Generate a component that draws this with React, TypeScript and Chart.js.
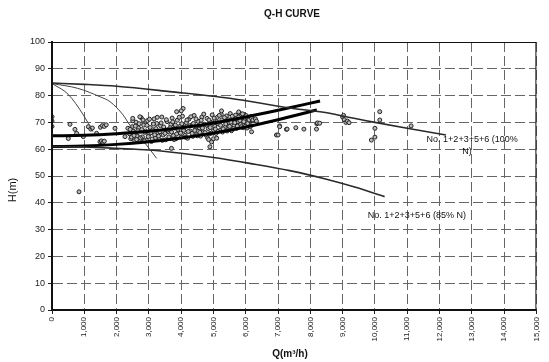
import React, { useEffect, useRef } from 'react';
import { Chart, registerables } from 'chart.js';

Chart.register(...registerables);

const chartTitle = 'Q-H CURVE';
const xTitle = 'Q(m³/h)';
const yTitle = 'H(m)';
const label100 = ['No. 1+2+3+5+6 (100%', 'N)'];
const label85 = 'No. 1+2+3+5+6 (85% N)';

const xMin = 0, xMax = 15000, xStep = 1000;
const yMin = 0, yMax = 100, yStep = 10;

// pump curve, 100% speed
const curve100Q = [0, 1000, 2000, 3650, 5500, 7360, 8600, 9220, 10000, 11000, 12200];
const curve100H = [84.7, 84.2, 83.5, 81.5, 79.0, 75.4, 73.4, 71.8, 70.0, 67.8, 65.3];
// pump curve, 85% speed
const curve85Q = [0, 1000, 2000, 3000, 4000, 5000, 6120, 7360, 8500, 9400, 10300];
const curve85H = [61.0, 60.8, 60.3, 59.7, 58.5, 56.9, 54.7, 52.0, 48.8, 45.8, 42.3];
// system curve A
const sysAQ = [0, 1000, 2000, 3000, 4000, 5000, 6000, 7000, 8300];
const sysAH = [65.0, 65.2, 65.8, 66.7, 68.0, 69.8, 72.0, 74.5, 78.0];
// system curve B
const sysBQ = [0, 1000, 2000, 3000, 4000, 5000, 6000, 7000, 8200];
const sysBH = [61.0, 61.2, 61.8, 62.8, 64.2, 66.0, 68.3, 71.0, 74.6];
// thin single-pump curves
const thin1Q = [0, 500, 970, 1270];
const thin1H = [84.5, 80.5, 72.8, 66.5];
const thin2Q = [0, 800, 1500, 1800, 2200, 2410, 2800, 3240];
const thin2H = [84.5, 82.7, 79.5, 77.7, 72.8, 69.0, 63.5, 56.6];

// measured operating points [Q, H]
const measured: [number, number][] = [
  [0, 72.1], [0, 70.5], [0, 68.5], [557, 69.3], [505, 64.0], [710, 67.4], [763, 65.9], [970, 64.7],
  [1125, 68.4], [1200, 67.5], [1250, 67.9], [1380, 65.9], [1500, 68.2], [1560, 68.8], [1620, 68.5],
  [1680, 69.1], [1485, 62.8], [1530, 63.1], [1580, 62.6], [1620, 63.0], [1950, 67.8], [2260, 64.7],
  [2350, 67.8], [836, 44.1],
  [2400, 65.8], [2440, 63.9], [2480, 68.4], [2520, 66.7], [2560, 63.2], [2600, 70.1], [2640, 65.0],
  [2680, 67.9], [2720, 62.8], [2760, 71.8], [2800, 64.6], [2840, 69.0], [2880, 66.3], [2920, 63.4],
  [2960, 70.7], [3000, 65.6], [3040, 68.1], [3080, 62.9], [3120, 67.2], [3160, 71.3], [3200, 64.2],
  [3240, 69.6], [3280, 66.0], [3320, 63.7], [3360, 68.8], [3400, 72.0], [3440, 65.3], [3480, 67.5],
  [3520, 63.5], [3560, 70.3], [3600, 66.6], [3640, 64.0], [3680, 69.2], [3720, 71.6], [3760, 65.1],
  [3800, 67.9], [3840, 63.9], [3880, 70.8], [3920, 66.2], [3960, 68.5], [4000, 64.5], [4040, 72.3],
  [4080, 67.0], [4120, 65.2], [4160, 69.9], [4200, 64.1], [4240, 71.2], [4280, 66.8], [4320, 68.9],
  [4360, 64.8], [4400, 72.6], [4440, 67.4], [4480, 65.6], [4520, 70.4], [4560, 68.0], [4600, 64.9],
  [4640, 72.0], [4680, 66.5], [4720, 69.3], [4760, 65.3], [4800, 71.5], [4840, 67.7], [4880, 65.8],
  [4920, 70.0], [4960, 72.8], [5000, 66.9], [5040, 68.6], [5080, 65.9], [5120, 71.9], [5160, 69.4],
  [5200, 67.0], [5240, 73.0], [5280, 66.4], [5320, 70.6], [5360, 68.2], [5400, 72.4], [5440, 67.3],
  [5480, 69.8], [5520, 73.3], [5560, 66.9], [5600, 71.1], [5640, 68.8], [5680, 72.7], [5720, 67.8],
  [5760, 70.3], [5800, 73.6], [5840, 69.2], [5880, 71.7], [5920, 68.0], [5960, 72.9], [6000, 70.0],
  [6040, 67.9], [6080, 71.4], [6120, 69.1], [6160, 72.2], [6200, 70.6],
  [2420, 67.4], [2460, 64.5], [2500, 70.6], [2540, 65.1], [2580, 68.6], [2620, 63.6], [2660, 66.9],
  [2700, 69.5], [2740, 64.2], [2780, 67.3], [2820, 70.9], [2860, 63.1], [2900, 66.8], [2940, 68.9],
  [2980, 64.7], [3020, 71.2], [3060, 66.1], [3100, 63.8], [3140, 69.4], [3180, 65.4], [3220, 67.7],
  [3260, 71.9], [3300, 64.9], [3340, 66.5], [3380, 69.8], [3420, 63.3], [3460, 68.3], [3500, 65.9],
  [3540, 71.0], [3580, 67.2], [3620, 64.6], [3660, 68.0], [3700, 66.4], [3740, 70.2], [3780, 63.6],
  [3820, 69.0], [3860, 65.7], [3900, 67.4], [3940, 71.9], [3980, 66.0], [4020, 69.5], [4060, 75.2],
  [4100, 68.2], [4140, 64.4], [4180, 70.9], [4220, 66.6], [4260, 68.7], [4300, 72.1], [4340, 65.9],
  [4380, 69.6], [4420, 67.0], [4460, 71.3], [4500, 65.0], [4540, 68.8], [4580, 66.3], [4620, 70.8],
  [4660, 67.9], [4700, 73.1], [4740, 66.2], [4780, 69.0], [4820, 64.2], [4860, 70.9], [4900, 68.1],
  [4940, 66.0], [4980, 69.7], [5020, 71.6], [5060, 67.5], [5100, 70.2], [5140, 66.6], [5180, 72.6],
  [5220, 68.9], [5260, 70.9], [5300, 67.6], [5340, 71.8], [5380, 69.4], [5420, 66.8], [5460, 71.0],
  [5500, 68.5], [5540, 70.1], [5580, 72.3], [5620, 67.7], [5660, 69.9], [5700, 71.4], [5740, 68.6],
  [5780, 72.0], [5820, 70.7], [5860, 68.4], [5900, 73.2], [5940, 70.3], [5980, 68.6], [6020, 72.5],
  [6060, 69.6], [6100, 70.9], [6140, 68.4], [6180, 71.6],
  [3860, 74.0], [4000, 74.3], [3700, 60.3], [4890, 60.9], [4940, 62.7], [4850, 63.6], [5000, 63.9],
  [5100, 64.1], [5250, 74.3], [5780, 73.9], [2500, 71.5], [2720, 72.1], [6220, 70.9], [6300, 71.3],
  [6330, 70.5], [6180, 66.5], [6950, 65.3], [7050, 68.7], [7260, 67.4], [7000, 65.3], [7050, 68.4],
  [7280, 67.5], [7550, 68.0], [7800, 67.5], [8200, 69.5], [8220, 69.8], [8190, 67.5], [8290, 69.7],
  [9000, 72.0], [9050, 71.0], [9100, 70.0], [9150, 70.5], [9200, 69.9], [9030, 72.6], [10150, 74.0],
  [10150, 70.9], [10000, 67.8], [9890, 63.4], [10000, 64.5], [11120, 68.7],
];

const toXY = (qs: number[], hs: number[]) => qs.map((q, i) => ({ x: q, y: hs[i] }));

const FONT = '"Liberation Sans", Arial, sans-serif';

const textPlugin = {
  id: 'qhTexts',
  afterDraw(chart: any) {
    const { ctx, chartArea, scales } = chart;
    const x = scales.x, y = scales.y;
    ctx.save();
    ctx.strokeStyle = '#111';
    ctx.lineWidth = 1;
    ctx.strokeRect(chartArea.left + 0.5, chartArea.top + 0.5, chartArea.width - 1, chartArea.height - 1);
    ctx.fillStyle = '#111';
    ctx.textBaseline = 'middle';
    ctx.textAlign = 'center';
    ctx.font = `bold 10px ${FONT}`;
    ctx.fillText(chartTitle, 292, 14);
    ctx.font = `bold 10px ${FONT}`;
    ctx.fillText(xTitle, 290, 354);
    ctx.save();
    ctx.translate(13, 190);
    ctx.rotate(-Math.PI / 2);
    ctx.font = `11px ${FONT}`;
    ctx.fillText(yTitle, 0, 0);
    ctx.restore();
    ctx.font = `9px ${FONT}`;
    ctx.textAlign = 'left';
    ctx.fillText(label100[0], x.getPixelForValue(11600), y.getPixelForValue(63.8));
    ctx.textAlign = 'center';
    ctx.fillText(label100[1], x.getPixelForValue(12850), y.getPixelForValue(59.0));
    ctx.textAlign = 'left';
    ctx.fillText(label85, x.getPixelForValue(9780), y.getPixelForValue(35.4));
    ctx.restore();
  },
};

export default function App() {
  const ref = useRef<HTMLCanvasElement | null>(null);
  useEffect(() => {
    document.body.style.margin = '0';
    if (!ref.current) return;
    const lineDs = (label: string, qs: number[], hs: number[], color: string, width: number) => ({
      label,
      data: toXY(qs, hs),
      showLine: true,
      borderColor: color,
      borderWidth: width,
      pointRadius: 0,
      tension: 0.4,
      cubicInterpolationMode: 'monotone' as const,
      order: 1,
    });
    const chart = new Chart(ref.current, {
      type: 'scatter',
      data: {
        datasets: [
          lineDs('100%', curve100Q, curve100H, '#2a2a2a', 1.6),
          lineDs('85%', curve85Q, curve85H, '#2a2a2a', 1.6),
          lineDs('System A', sysAQ, sysAH, '#000', 3),
          lineDs('System B', sysBQ, sysBH, '#000', 3),
          lineDs('Pump 1', thin1Q, thin1H, '#444', 1),
          lineDs('Pump 2', thin2Q, thin2H, '#444', 1),
          {
            label: 'Measured',
            data: measured.map(([q, h]) => ({ x: q, y: h })),
            pointRadius: 2,
            pointBorderWidth: 1,
            pointBorderColor: '#222',
            pointBackgroundColor: '#bbb',
            order: 10,
          },
        ],
      },
      options: {
        responsive: false,
        animation: false,
        layout: { padding: { top: 42, right: 12, left: 0, bottom: 0 } },
        plugins: { legend: { display: false }, tooltip: { enabled: false }, title: { display: false } },
        scales: {
          x: {
            type: 'linear',
            min: xMin,
            max: xMax,
            afterFit: (s: any) => { s.height = 52; },
            ticks: {
              stepSize: xStep,
              autoSkip: false,
              minRotation: 90,
              maxRotation: 90,
              padding: 3,
              color: '#222',
              font: { family: FONT, size: 8 },
              callback: (v: any) => Number(v).toLocaleString('en-US'),
            },
            grid: { color: '#666', tickLength: 4, tickColor: '#222' },
            border: { color: '#111', width: 1, dash: [10, 4] },
          },
          y: {
            min: yMin,
            max: yMax,
            afterFit: (s: any) => { s.width = 52; },
            ticks: {
              stepSize: yStep,
              padding: 3,
              color: '#222',
              font: { family: FONT, size: 9 },
            },
            grid: { color: '#666', tickLength: 4, tickColor: '#222' },
            border: { color: '#111', width: 2, dash: [10, 4] },
          },
        },
      },
      plugins: [textPlugin],
    });
    return () => chart.destroy();
  }, []);
  return (
    <div style={{ width: 549, height: 362 }}>
      <canvas ref={ref} width={549} height={362} />
    </div>
  );
}
